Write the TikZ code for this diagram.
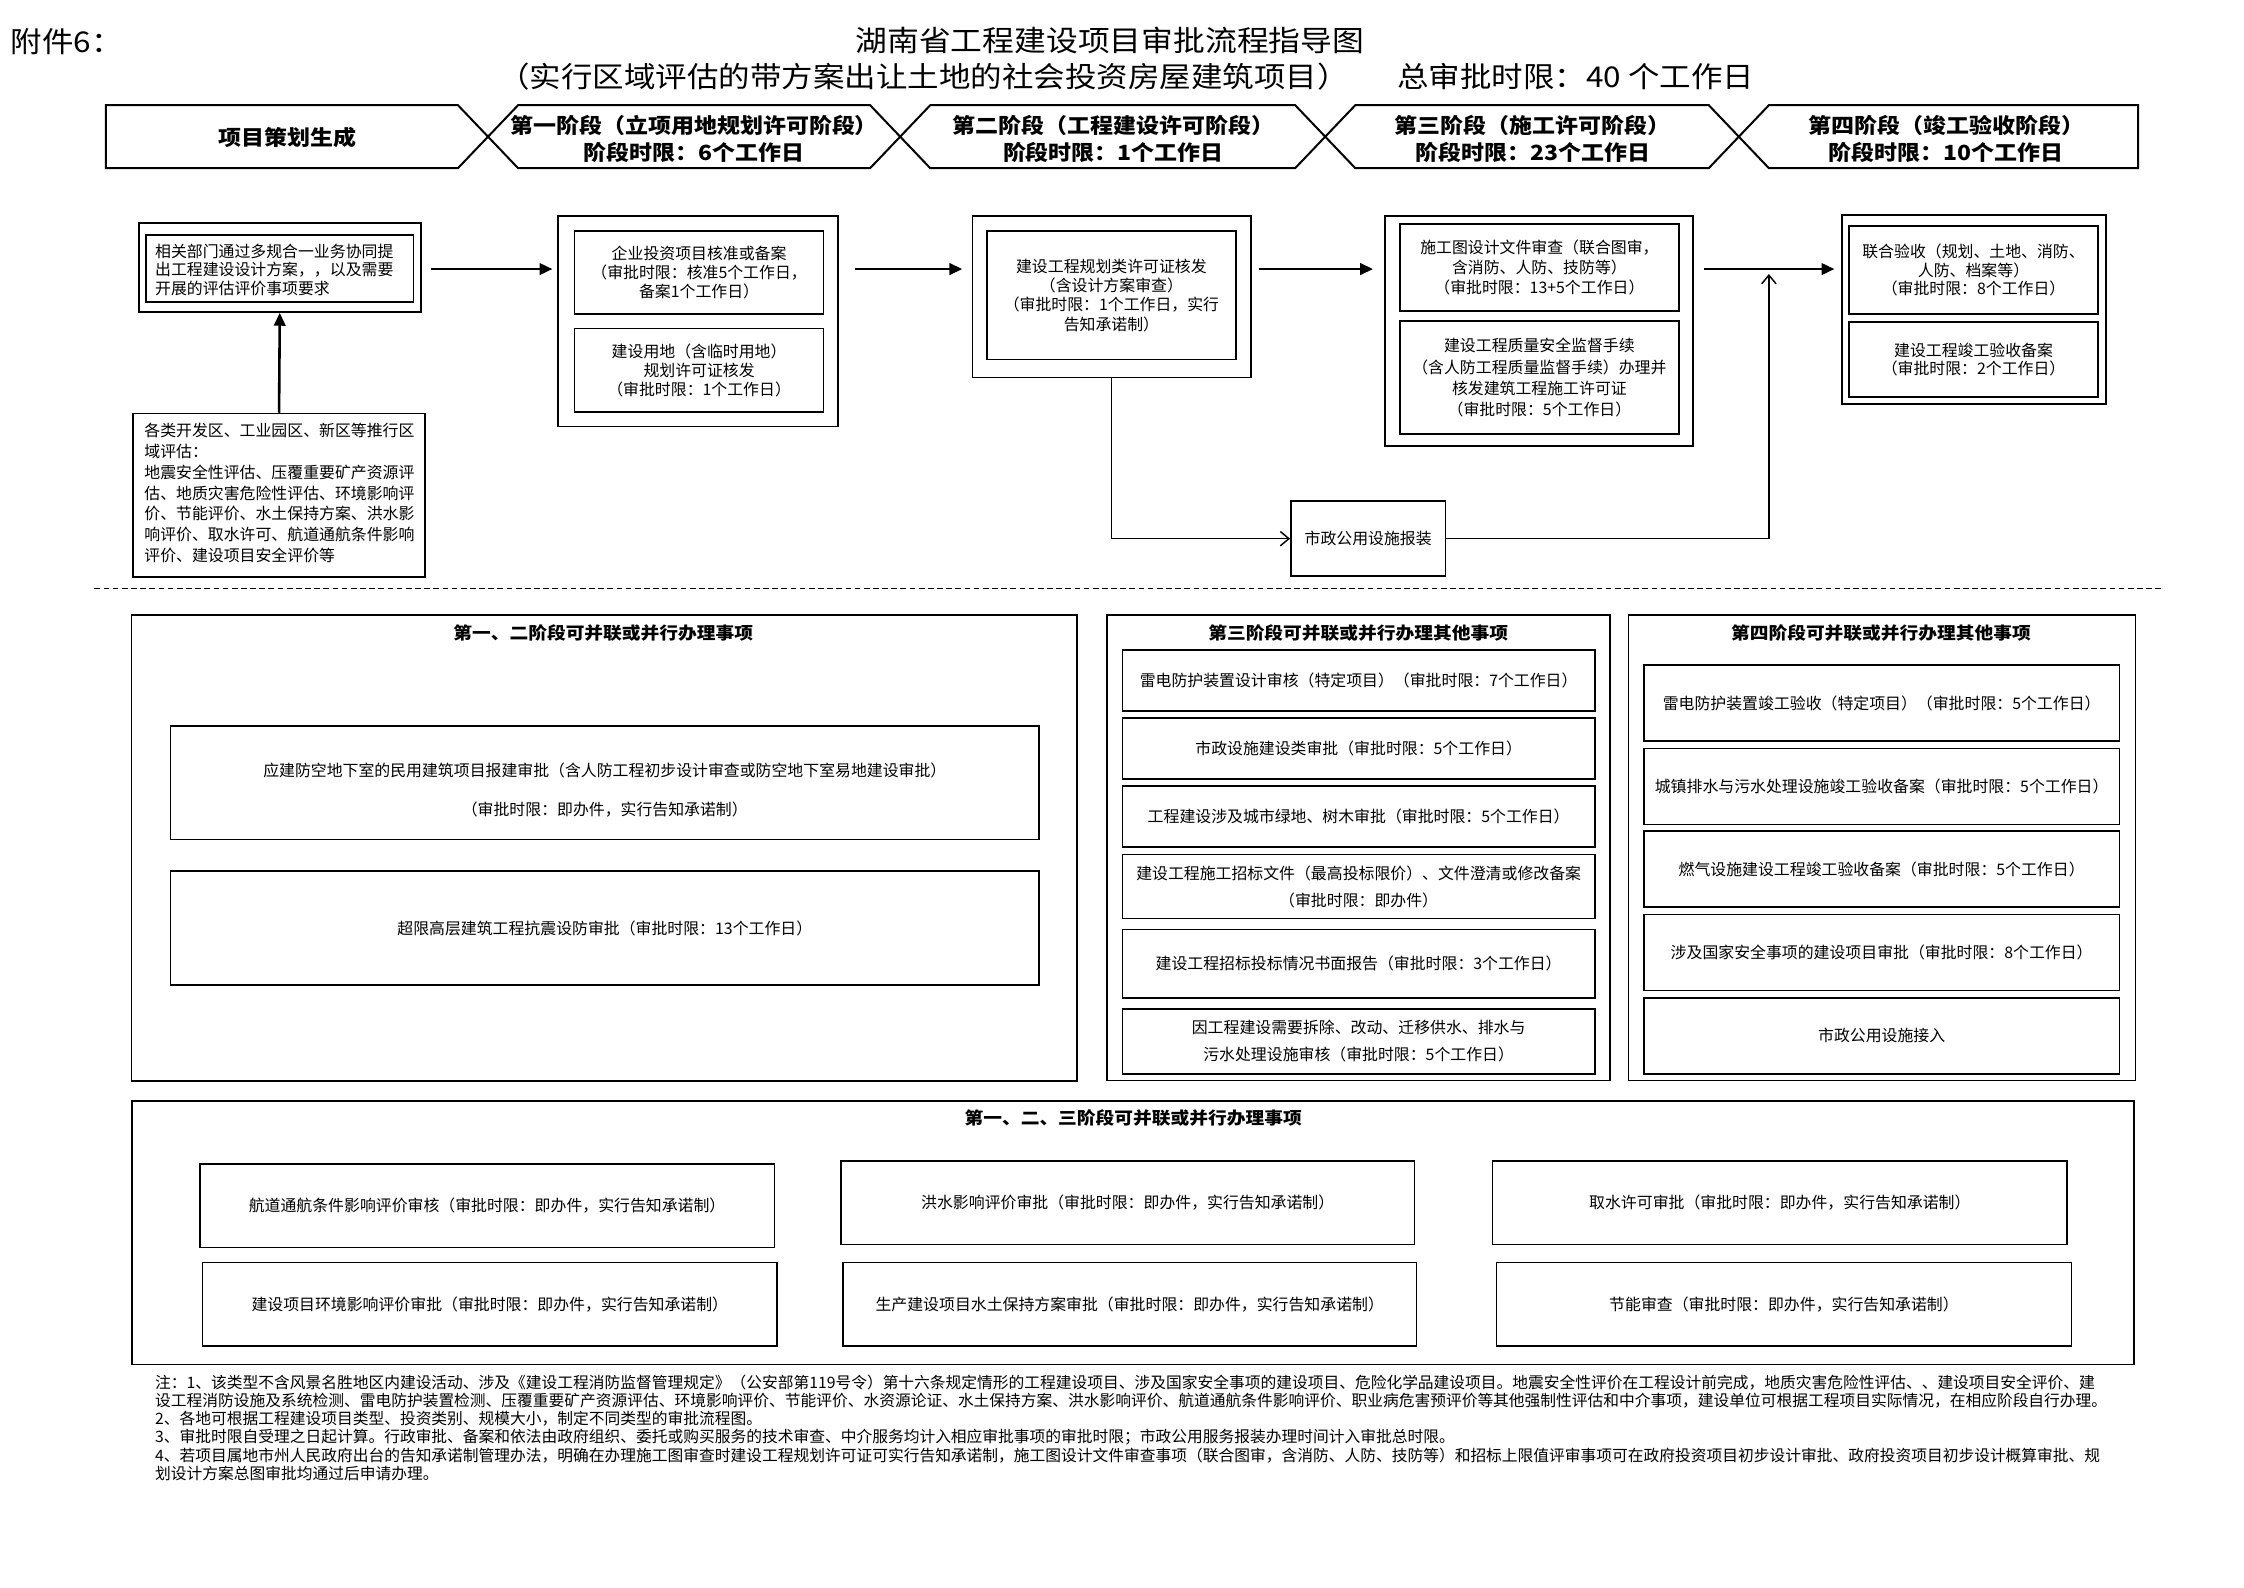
\documentclass[tikz,border=0pt]{standalone}
\usepackage{fontspec}
\setmainfont{Noto Sans CJK SC}
\newfontfamily\widefont[FakeStretch=1.1]{Noto Sans CJK SC}
\usetikzlibrary{arrows.meta}
\begin{document}
\begin{tikzpicture}[x=0.5pt,y=-0.5pt,
  obox/.style 2 args={draw, line width=0.6pt, minimum width=#1*0.5pt, minimum height=#2*0.5pt, inner sep=0pt, align=center},
  ibox/.style 2 args={obox={#1}{#2}},
  sbox/.style 2 args={draw, line width=0.55pt, minimum width=#1*0.5pt, minimum height=#2*0.5pt, inner sep=0pt, align=center, font=\fontsize{5.55pt}{6.7pt}\selectfont},
  bt/.style={font=\fontsize{5.55pt}{#1}\selectfont},
  tx/.style={inner sep=0pt, align=center},
  bn/.style={font=\widefont\bfseries\fontsize{7.3pt}{9.35pt}\selectfont},
  sec/.style={inner sep=0pt, font=\widefont\bfseries\fontsize{5.95pt}{7pt}\selectfont},
  ban/.style={draw, line width=0.7pt, line join=miter},
  marr/.style={line width=0.9pt, -{Triangle[length=4.5pt,width=4pt]}},
  tarr/.style={line width=0.5pt, -{Straight Barb[length=3pt,width=5pt]}},
  dln/.style={line width=0.45pt, dash pattern=on 2pt off 1.2pt},
  nt/.style={inner sep=0pt, anchor=west, font=\fontsize{5.5pt}{6.4pt}\selectfont}
]
\useasboundingbox (0,0) rectangle (1568,1109);
\fill[white] (0,0) rectangle (1568,1109);

% ---------- header ----------
\node[tx, anchor=west, font=\widefont\fontsize{10pt}{12pt}\selectfont] (fj) at (7,29) {附件6：};
\node[tx, font=\widefont\fontsize{10.1pt}{12pt}\selectfont] (t1) at (775.5,28.5) {湖南省工程建设项目审批流程指导图};
\node[tx, font=\widefont\fontsize{10pt}{12pt}\selectfont] (t2) at (787,53.6) {（实行区域评估的带方案出让土地的社会投资房屋建筑项目）\hspace{17pt}总审批时限：40 个工作日};

% ---------- phase banner ----------
\draw[ban] (74,73.5) -- (320,73.5) -- (341,95.5) -- (320,117.5) -- (74,117.5) -- cycle;
\draw[ban] (341,95.5) -- (362,73.5) -- (608,73.5) -- (629,95.5) -- (608,117.5) -- (362,117.5) -- cycle;
\draw[ban] (629,95.5) -- (650,73.5) -- (905,73.5) -- (926,95.5) -- (905,117.5) -- (650,117.5) -- cycle;
\draw[ban] (926,95.5) -- (947,73.5) -- (1194,73.5) -- (1215,95.5) -- (1194,117.5) -- (947,117.5) -- cycle;
\draw[ban] (1215,95.5) -- (1236,73.5) -- (1494,73.5) -- (1494,117.5) -- (1236,117.5) -- cycle;
\node[tx, bn] (p0) at (201,96) {项目策划生成};
\node[tx, bn] (p1) at (485,97) {第一阶段（立项用地规划许可阶段）\\阶段时限：6个工作日};
\node[tx, bn] (p2) at (778,97) {第二阶段（工程建设许可阶段）\\阶段时限：1个工作日};
\node[tx, bn] (p3) at (1071,97) {第三阶段（施工许可阶段）\\阶段时限：23个工作日};
\node[tx, bn] (p4) at (1360,97) {第四阶段（竣工验收阶段）\\阶段时限：10个工作日};

% ---------- main flow ----------
\coordinate (ay) at (0,188);
% A
\node[obox={197}{62}] (aout) at (195.5,187) {};
\node[ibox={187}{47}] (ain) at (195.5,187.5) {};
\node[tx, anchor=west, align=left, bt=6.4pt] (atxt) at (108,188.5) {相关部门通过多规合一业务协同提\\出工程建设设计方案，，以及需要\\开展的评估评价事项要求};
% B
\node[obox={204}{114}] (bbox) at (195,346) {};
\node[tx, anchor=west, align=left, bt=7.3pt] (btxt) at (100.5,344.5) {各类开发区、工业园区、新区等推行区\\域评估：\\地震安全性评估、压覆重要矿产资源评\\估、地质灾害危险性评估、环境影响评\\价、节能评价、水土保持方案、洪水影\\响评价、取水许可、航道通航条件影响\\评价、建设项目安全评价等};
% C
\node[obox={195.5}{147}] (cout) at (487.75,224.5) {};
\node[ibox={174}{58}, bt=6.75pt] (c1) at (488.5,190.5) {企业投资项目核准或备案\\（审批时限：核准5个工作日，\\备案1个工作日）};
\node[ibox={174}{58.5}, bt=6.7pt] (c2) at (488.5,258.75) {建设用地（含临时用地）\\规划许可证核发\\（审批时限：1个工作日）};
% D
\node[obox={194.4}{113}] (dout) at (776.8,207.3) {};
\node[ibox={174}{89.7}, bt=6.7pt] (d1) at (776.6,206.4) {建设工程规划类许可证核发\\（含设计方案审查）\\（审批时限：1个工作日，实行\\告知承诺制）};
% E
\node[obox={215.4}{161}] (eout) at (1075.3,231.3) {};
\node[ibox={194.7}{60.8}, bt=7.1pt] (e1) at (1075.65,187) {施工图设计文件审查（联合图审，\\含消防、人防、技防等）\\（审批时限：13+5个工作日）};
\node[ibox={194.7}{79}, bt=7.4pt] (e2) at (1075.65,263.9) {建设工程质量安全监督手续\\（含人防工程质量监督手续）办理并\\核发建筑工程施工许可证\\（审批时限：5个工作日）};
% G
\node[obox={184.7}{132.2}] (gout) at (1379.35,216.4) {};
\node[ibox={174}{61.5}, bt=6.4pt] (g1) at (1379,188.75) {联合验收（规划、土地、消防、\\人防、档案等）\\（审批时限：8个工作日）};
\node[ibox={174}{52.4}, bt=6.4pt] (g2) at (1379,251.1) {建设工程竣工验收备案\\（审批时限：2个工作日）};
% F
\node[obox={108}{52.2}, bt=6.7pt] (f) at (956,376.4) {市政公用设施报装};

% connectors
\draw[marr] (bbox.north) -- (aout.south);
\draw[marr, shorten <=3.3pt, shorten >=1.7pt] (aout.east |- ay) -- (cout.west |- ay);
\draw[marr, shorten <=5.75pt, shorten >=3.3pt] (cout.east |- ay) -- (dout.west |- ay);
\draw[marr, shorten <=2.5pt, shorten >=3.8pt] (dout.east |- ay) -- (eout.west |- ay);
\draw[marr, shorten <=3.5pt, shorten >=2.3pt] (eout.east |- ay) -- (gout.west |- ay);
\coordinate (gj) at (1236,191.5);
\draw[tarr] (dout.south) |- (f.west);
\draw[tarr] (f.east) -| (gj);

% dashed separator
\coordinate (dsl) at (66,411);
\coordinate (dsr) at (1510,411);
\draw[dln] (dsl) -- (dsr);

% ---------- stage 1-2 parallel items ----------
\node[sbox={660.7}{325.6}] (h) at (422.15,592.6) {};
\node[sec] (ht) at (421.5,442.6) {第一、二阶段可并联或并行办理事项};
\node[sbox={606.8}{79.3}] (h1) at (422.6,547) {};
\node[tx, bt=13.55pt] (h1t) at (422.6,552.2) {应建防空地下室的民用建筑项目报建审批（含人防工程初步设计审查或防空地下室易地建设审批）\\（审批时限：即办件，实行告知承诺制）};
\node[sbox={606.8}{79.4}] (h2) at (422.6,648.5) {超限高层建筑工程抗震设防审批（审批时限：13个工作日）};

% ---------- stage 3 ----------
\node[sbox={351.4}{325.2}] (i) at (949.3,592.4) {};
\node[sec] (it) at (949,442.2) {第三阶段可并联或并行办理其他事项};
\node[sbox={329.9}{42.4}] (i1) at (949.35,475.5) {雷电防护装置设计审核（特定项目）（审批时限：7个工作日）};
\node[sbox={329.9}{42.9}] (i2) at (949.35,523.05) {市政设施建设类审批（审批时限：5个工作日）};
\node[sbox={329.9}{42.4}] (i3) at (949.35,570.6) {工程建设涉及城市绿地、树木审批（审批时限：5个工作日）};
\node[sbox={329.9}{44.7}, bt=9.3pt] (i4) at (949.35,619.55) {建设工程施工招标文件（最高投标限价）、文件澄清或修改备案\\（审批时限：即办件）};
\node[sbox={329.9}{47.8}] (i5) at (949.35,673.5) {建设工程招标投标情况书面报告（审批时限：3个工作日）};
\node[sbox={329.9}{45.4}, bt=9.3pt] (i6) at (949.35,727.6) {因工程建设需要拆除、改动、迁移供水、排水与\\污水处理设施审核（审批时限：5个工作日）};

% ---------- stage 4 ----------
\node[sbox={354.4}{325.2}] (j) at (1315,592.4) {};
\node[sec] (jt) at (1314.3,442.2) {第四阶段可并联或并行办理其他事项};
\node[sbox={332.4}{52.9}] (j1) at (1314.8,491.25) {雷电防护装置竣工验收（特定项目）（审批时限：5个工作日）};
\node[sbox={332.4}{53}] (j2) at (1314.8,549.5) {城镇排水与污水处理设施竣工验收备案（审批时限：5个工作日）};
\node[sbox={332.4}{53}] (j3) at (1314.8,607.3) {燃气设施建设工程竣工验收备案（审批时限：5个工作日）};
\node[sbox={332.4}{52.9}] (j4) at (1314.8,665.55) {涉及国家安全事项的建设项目审批（审批时限：8个工作日）};
\node[sbox={332.4}{53.1}] (j5) at (1314.8,723.75) {市政公用设施接入};

% ---------- stage 1-3 ----------
\node[sbox={1398.8}{183.9}] (k) at (791.8,861.35) {};
\node[sec] (kt) at (791.8,781.5) {第一、二、三阶段可并联或并行办理事项};
\node[sbox={401.5}{58.2}] (k1) at (340.35,842.6) {航道通航条件影响评价审核（审批时限：即办件，实行告知承诺制）};
\node[sbox={401}{58.3}] (k2) at (788,840.45) {洪水影响评价审批（审批时限：即办件，实行告知承诺制）};
\node[sbox={401.5}{58.3}] (k3) at (1243.65,840.45) {取水许可审批（审批时限：即办件，实行告知承诺制）};
\node[sbox={401.5}{58.5}] (k4) at (342.25,911.45) {建设项目环境影响评价审批（审批时限：即办件，实行告知承诺制）};
\node[sbox={401}{58.5}] (k5) at (789.4,911.45) {生产建设项目水土保持方案审批（审批时限：即办件，实行告知承诺制）};
\node[sbox={401.9}{58.5}] (k6) at (1246.55,911.45) {节能审查（审批时限：即办件，实行告知承诺制）};

% ---------- notes ----------
\node[nt] (n1) at (108,966) {注：1、该类型不含风景名胜地区内建设活动、涉及《建设工程消防监督管理规定》（公安部第119号令）第十六条规定情形的工程建设项目、涉及国家安全事项的建设项目、危险化学品建设项目。地震安全性评价在工程设计前完成，地质灾害危险性评估、、建设项目安全评价、建};
\node[nt] (n2) at (108,978.7) {设工程消防设施及系统检测、雷电防护装置检测、压覆重要矿产资源评估、环境影响评价、节能评价、水资源论证、水土保持方案、洪水影响评价、航道通航条件影响评价、职业病危害预评价等其他强制性评估和中介事项，建设单位可根据工程项目实际情况，在相应阶段自行办理。};
\node[nt] (n3) at (108,991.4) {2、各地可根据工程建设项目类型、投资类别、规模大小，制定不同类型的审批流程图。};
\node[nt] (n4) at (108,1004.1) {3、审批时限自受理之日起计算。行政审批、备案和依法由政府组织、委托或购买服务的技术审查、中介服务均计入相应审批事项的审批时限；市政公用服务报装办理时间计入审批总时限。};
\node[nt] (n5) at (108,1016.8) {4、若项目属地市州人民政府出台的告知承诺制管理办法，明确在办理施工图审查时建设工程规划许可证可实行告知承诺制，施工图设计文件审查事项（联合图审，含消防、人防、技防等）和招标上限值评审事项可在政府投资项目初步设计审批、政府投资项目初步设计概算审批、规};
\node[nt] (n6) at (108,1029.5) {划设计方案总图审批均通过后申请办理。};
\end{tikzpicture}
\end{document}
